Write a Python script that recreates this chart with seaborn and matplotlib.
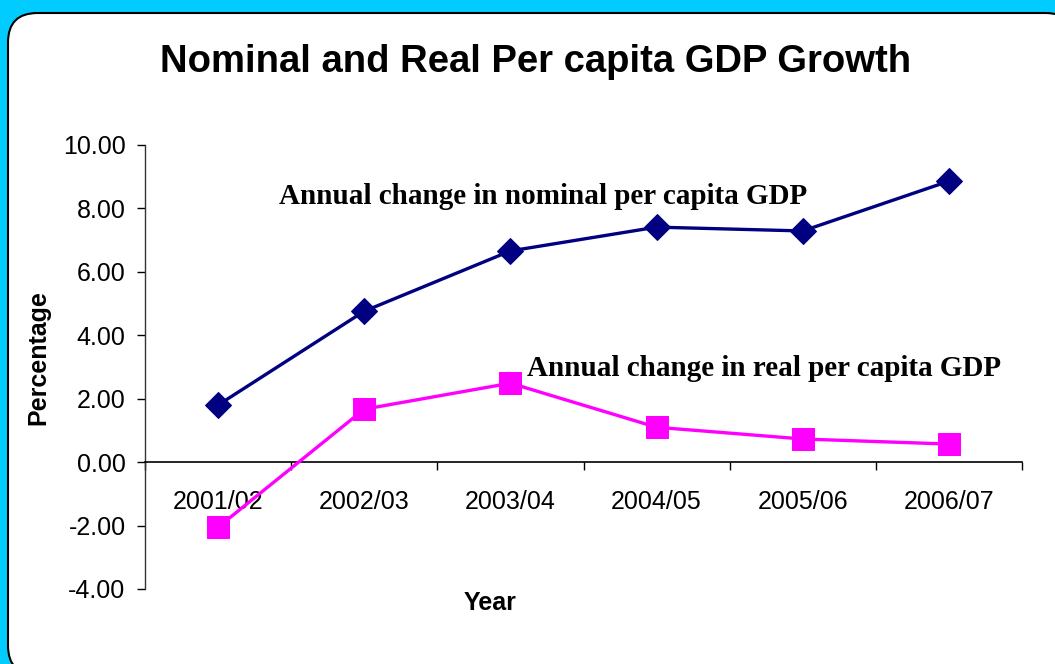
import numpy as np
import pandas as pd
import matplotlib
matplotlib.use("Agg")
import matplotlib.pyplot as plt
from matplotlib.patches import FancyBboxPatch
import seaborn as sns

years = ["2001/02", "2002/03", "2003/04", "2004/05", "2005/06", "2006/07"]
nominal = [1.80, 4.76, 6.66, 7.41, 7.29, 8.86]
real = [-2.05, 1.67, 2.49, 1.10, 0.73, 0.57]

sns.set_theme(style="white")
plt.rcParams["font.family"] = ["Liberation Sans", "DejaVu Sans"]
plt.rcParams["text.color"] = "black"
plt.rcParams["xtick.color"] = "black"
plt.rcParams["ytick.color"] = "black"

W, H = 1055, 664
fig = plt.figure(figsize=(W / 100, H / 100), dpi=100)
fig.patch.set_facecolor("#00CCFF")

# white rounded panel behind the chart
panel = FancyBboxPatch((8 / W, 1 - 675 / H), (1075 - 8) / W, (675 - 13) / H,
                       boxstyle="round,pad=0,rounding_size=0.028",
                       transform=fig.transFigure, facecolor="white",
                       edgecolor="black", linewidth=1.5, mutation_aspect=W / H,
                       zorder=-1)
fig.patches.append(panel)

ax = fig.add_axes([145 / W, 1 - 589 / H, (1022 - 145) / W, (589 - 145) / H])
ax.set_facecolor("none")
ax.set_zorder(2)

df = pd.DataFrame({"pos": np.arange(len(years)), "year": years,
                   "nominal": nominal, "real": real})

sns.lineplot(data=df, x="pos", y="nominal", ax=ax, color="#000080",
             linewidth=2.4, marker="D", markersize=13, markeredgecolor="#000080",
             zorder=3)
sns.lineplot(data=df, x="pos", y="real", ax=ax, color="#FF00FF",
             linewidth=2.4, marker="s", markersize=16, markeredgecolor="#FF00FF",
             zorder=3)

ax.set_xlim(-0.5, len(years) - 0.5)
ax.set_ylim(-4, 10)
ax.set_yticks(np.arange(-4, 10.1, 2))
ax.set_yticklabels([f"{v:.2f}" for v in np.arange(-4, 10.1, 2)], fontsize=18)

for s in ["top", "right"]:
    ax.spines[s].set_visible(False)
ax.spines["left"].set_color("#333333")
ax.spines["left"].set_linewidth(1.0)
ax.spines["bottom"].set_position(("data", 0))
ax.spines["bottom"].set_color("black")
ax.spines["bottom"].set_linewidth(1.2)

# boundary ticks on the zero line, category labels as minor ticks
ax.set_xticks(np.arange(-0.5, len(years), 1.0))
ax.set_xticklabels([])
ax.set_xticks(np.arange(len(years)), minor=True)
ax.set_xticklabels(years, minor=True, fontsize=18)
ax.tick_params(axis="x", which="major", direction="out", length=6, width=1,
               color="black", bottom=True)
ax.tick_params(axis="x", which="minor", length=0, pad=20)
ax.tick_params(axis="y", direction="out", length=6, width=1, color="black",
               left=True, pad=8)

ax.set_xlabel("")
ax.set_ylabel("")
ax.grid(False)

fig.text(38 / W, 1 - 358 / H, "Percentage", rotation=90, fontsize=18,
         fontweight="bold", ha="center", va="center")
fig.text(490 / W, 1 - 603 / H, "Year", fontsize=18, fontweight="bold",
         ha="center", va="center")
fig.text(536 / W, 1 - 62 / H, "Nominal and Real Per capita GDP Growth",
         fontsize=27.5, fontweight="bold", ha="center", va="center")

serif = ["Liberation Serif", "DejaVu Serif"]
fig.text(279 / W, 1 - 197 / H, "Annual change in nominal per capita GDP",
         fontsize=21, fontweight="bold", family=serif, ha="left", va="center")
fig.text(527 / W, 1 - 368 / H, "Annual change in real per capita GDP",
         fontsize=21, fontweight="bold", family=serif, ha="left", va="center")

fig.savefig("out.png", dpi=100, facecolor=fig.get_facecolor())
